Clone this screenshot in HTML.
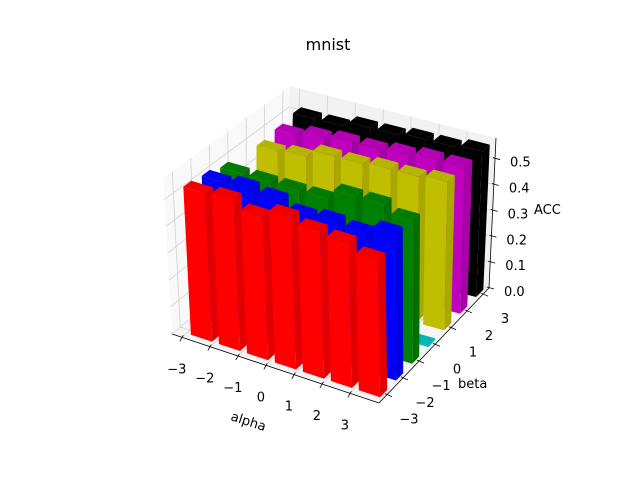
<!DOCTYPE html>
<html><head><meta charset="utf-8"><style>
html,body{margin:0;padding:0;background:#fff;}
svg{display:block;font-family:"DejaVu Sans","Liberation Sans",sans-serif;}
</style></head><body>
<svg id="chart" width="640" height="480" viewBox="0 0 640 480">
<text x="328" y="50" text-anchor="middle" font-size="16">mnist</text>
<g id="panes"></g>
<g id="grid"></g>
<g id="axes"></g>
<g id="bars"></g>
<text x="0" y="0" font-size="13" transform="translate(230,420) rotate(18)">alpha</text>
<text x="458" y="388" font-size="13">beta</text>
<text x="534" y="214" font-size="13">ACC</text>
</svg>
<script>
const alphas = [-3,-2,-1,0,1,2,3];
const betas = [-3,-2,-1,0,1,2,3];
const colors = ['#ff0000','#0000ff','#008000','#00bfbf','#bfbf00','#bf00bf','#000000'];
const accRed = [0.55,0.56,0.53,0.56,0.54,0.53,0.50];
const accBlue = [0.54,0.55,0.54,0.51,0.52,0.51,0.54];
const accGreen = [0.52,0.52,0.52,0.52,0.56,0.56,0.53];
const accCyan = [0.005,0.005,0.005,0.005,0.005,0.005,0.005];
const accYellow = [0.50,0.51,0.54,0.54,0.55,0.55,0.56];
const accMagenta = [0.51,0.53,0.54,0.54,0.55,0.56,0.56];
const accBlack = [0.52,0.52,0.54,0.54,0.55,0.55,0.56];
const zTicks = [0.0,0.1,0.2,0.3,0.4,0.5];
const xTicks = [-3,-2,-1,0,1,2,3];
const yTicks = [-3,-2,-1,0,1,2,3];
const rows = [accRed,accBlue,accGreen,accCyan,accYellow,accMagenta,accBlack];

const XMIN=-3.35, XMAX=4.04, YMIN=-3.5, YMAX=3.37, ZMAX=0.58;
const C = {FL:[172,334,-9,-156], FR:[379,403,-3,-160], BR:[489,288,7,-150], BL:[285,238,5,-152]};
function P(x,y,z){
  const u=(x-XMIN)/(XMAX-XMIN), v=(y-YMIN)/(YMAX-YMIN), w=z/ZMAX;
  const r=[0,1,2,3].map(i=>(1-u)*(1-v)*C.FL[i]+u*(1-v)*C.FR[i]+u*v*C.BR[i]+(1-u)*v*C.BL[i]);
  return [r[0]+w*r[2], r[1]+w*r[3]];
}
const NS='http://www.w3.org/2000/svg';
function poly(g,pts,fill,stroke,name){
  const p=document.createElementNS(NS,'polygon');
  p.setAttribute('points',pts.map(q=>q[0].toFixed(1)+','+q[1].toFixed(1)).join(' '));
  p.setAttribute('fill',fill);
  if(stroke){p.setAttribute('stroke',stroke);p.setAttribute('stroke-width','0.5');}
  
  
  g.appendChild(p);
}
function line(g,a,b,col,w,name){
  const l=document.createElementNS(NS,'line');
  l.setAttribute('x1',a[0]);l.setAttribute('y1',a[1]);l.setAttribute('x2',b[0]);l.setAttribute('y2',b[1]);
  l.setAttribute('stroke',col);l.setAttribute('stroke-width',w);
  
  
  g.appendChild(l);
}
function text(g,x,y,s,anchor,name){
  const t=document.createElementNS(NS,'text');
  t.setAttribute('x',x);t.setAttribute('y',y);t.setAttribute('font-size','13');
  t.setAttribute('text-anchor',anchor);t.textContent=s;
  
  
  g.appendChild(t);
}
const panes=document.getElementById('panes'), grid=document.getElementById('grid'), axes=document.getElementById('axes'), bars=document.getElementById('bars');
poly(panes,[P(XMIN,YMIN,0),P(XMAX,YMIN,0),P(XMAX,YMAX,0),P(XMIN,YMAX,0)],'#f5f5f5',null,'floor-pane');
poly(panes,[P(XMIN,YMIN,0),P(XMIN,YMAX,0),P(XMIN,YMAX,ZMAX),P(XMIN,YMIN,ZMAX)],'#f9f9f9',null,'left-pane');
poly(panes,[P(XMIN,YMAX,0),P(XMAX,YMAX,0),P(XMAX,YMAX,ZMAX),P(XMIN,YMAX,ZMAX)],'#f2f2f2',null,'back-pane');
const gc='#d2d2d2';
xTicks.forEach(x=>{line(grid,P(x,YMIN,0),P(x,YMAX,0),gc,0.8,'floor-grid-x');line(grid,P(x,YMAX,0),P(x,YMAX,ZMAX),gc,0.8,'back-grid-x');});
yTicks.forEach(y=>{line(grid,P(XMIN,y,0),P(XMAX,y,0),gc,0.8,'floor-grid-y');line(grid,P(XMIN,y,0),P(XMIN,y,ZMAX),gc,0.8,'left-grid-y');});
zTicks.forEach(z=>{line(grid,P(XMIN,YMIN,z),P(XMIN,YMAX,z),gc,0.8,'left-grid-z');line(grid,P(XMIN,YMAX,z),P(XMAX,YMAX,z),gc,0.8,'back-grid-z');});
line(axes,P(XMIN,YMIN,0),P(XMAX,YMIN,0),'#000',0.8,'x-axis-line');
line(axes,P(XMAX,YMIN,0),P(XMAX,YMAX,0),'#000',0.8,'y-axis-line');
line(axes,P(XMAX,YMAX,0),P(XMAX,YMAX,ZMAX),'#000',0.8,'z-axis-line');
xTicks.forEach(x=>{const a=P(x,YMIN,0);line(axes,[a[0]+1.5,a[1]-2],[a[0]-2,a[1]+4],'#000',0.8,'x-tick');text(axes,a[0]-5,a[1]+36,x<0?'\u2212'+(-x):String(x),'middle','x-tick-label');});
yTicks.forEach(y=>{const a=P(XMAX,y,0);line(axes,[a[0]-2,a[1]-1],[a[0]+5,a[1]+2],'#000',0.8,'y-tick');text(axes,a[0]+22,a[1]+29,y<0?'\u2212'+(-y):String(y),'middle','y-tick-label');});
zTicks.forEach(z=>{const a=P(XMAX,YMAX,z);line(axes,[a[0]-2,a[1]-1],[a[0]+5,a[1]+1],'#000',0.8,'z-tick');text(axes,a[0]+15,a[1]+8,z.toFixed(1),'start','z-tick-label');});
const DX0=0.16, DX1=0.92, DY=0.22;
function shade(hex,f){const n=parseInt(hex.slice(1),16);const r=(n>>16)&255,g=(n>>8)&255,b=n&255;
  return 'rgb('+Math.round(r*f)+','+Math.round(g*f)+','+Math.round(b*f)+')';}
const list=[];
betas.forEach((b,j)=>alphas.forEach((a,i)=>list.push({a,b,v:rows[j][i],c:colors[j],far:0.866*b-0.5*a})));
list.sort((p,q)=>q.far-p.far);
list.forEach(o=>{
  const x0=o.a+DX0,x1=o.a+DX1,y0=o.b-DY,y1=o.b+DY,z=o.v;
  poly(bars,[P(x1,y0,0),P(x1,y1,0),P(x1,y1,z),P(x1,y0,z)],shade(o.c,0.88),null,'bar-side');
  poly(bars,[P(x0,y0,0),P(x1,y0,0),P(x1,y0,z),P(x0,y0,z)],o.c,null,'bar-front');
  poly(bars,[P(x0,y0,z),P(x1,y0,z),P(x1,y1,z),P(x0,y1,z)],shade(o.c,0.95),null,'bar-top');
});
</script>
</body></html>
